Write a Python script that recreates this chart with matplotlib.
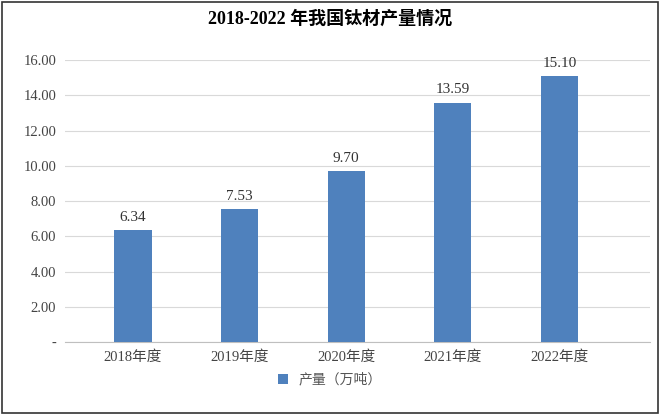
import matplotlib
matplotlib.use("Agg")
import matplotlib.pyplot as plt
from matplotlib.patches import Rectangle

plt.rcParams['font.family'] = ['Liberation Serif', 'Noto Sans CJK SC']

years = ['2018年度', '2019年度', '2020年度', '2021年度', '2022年度']
output = [6.34, 7.53, 9.70, 13.59, 15.10]
yticks = [0, 2, 4, 6, 8, 10, 12, 14, 16]
ytick_labels = ['-', '2.00', '4.00', '6.00', '8.00', '10.00', '12.00', '14.00', '16.00']

fig = plt.figure(figsize=(6.6, 4.15), dpi=100)
ax = fig.add_axes([0.098, 0.176, 0.887, 0.679])
x = range(len(years))
bars = ax.bar(x, output, width=0.35, color='#4f81bd', label='产量（万吨）', zorder=3)
for xi, v in zip(x, output):
    ax.text(xi, v + 0.35, f'{v:.2f}', ha='center', va='bottom', fontsize=11, color='#333333')

ax.set_xlim(-0.64, 4.85)
ax.set_ylim(0, 16)
ax.set_yticks(yticks)
ax.set_yticklabels(ytick_labels, fontsize=10.5, color='#444444')
ax.set_xticks(list(x))
ax.set_xticklabels(years, fontsize=10.5, color='#444444')
ax.grid(axis='y', color='#d9d9d9', lw=0.8, zorder=0)
for s in ['top', 'right', 'left']:
    ax.spines[s].set_visible(False)
ax.spines['bottom'].set_color('#bfbfbf')
ax.tick_params(length=0, pad=6)

fig.suptitle('2018-2022 年我国钛材产量情况', y=0.975, fontsize=13, fontweight='bold')
fig.legend(handles=[bars], loc='center', bbox_to_anchor=(0.5, 0.085), frameon=False,
           fontsize=10, handlelength=0.7, handleheight=0.7, labelcolor='#555555')
fig.patches.append(Rectangle((0.003, 0.004), 0.994, 0.992, transform=fig.transFigure,
                             fill=False, edgecolor='#333333', lw=1.2))
fig.savefig('out.png', dpi=100)
